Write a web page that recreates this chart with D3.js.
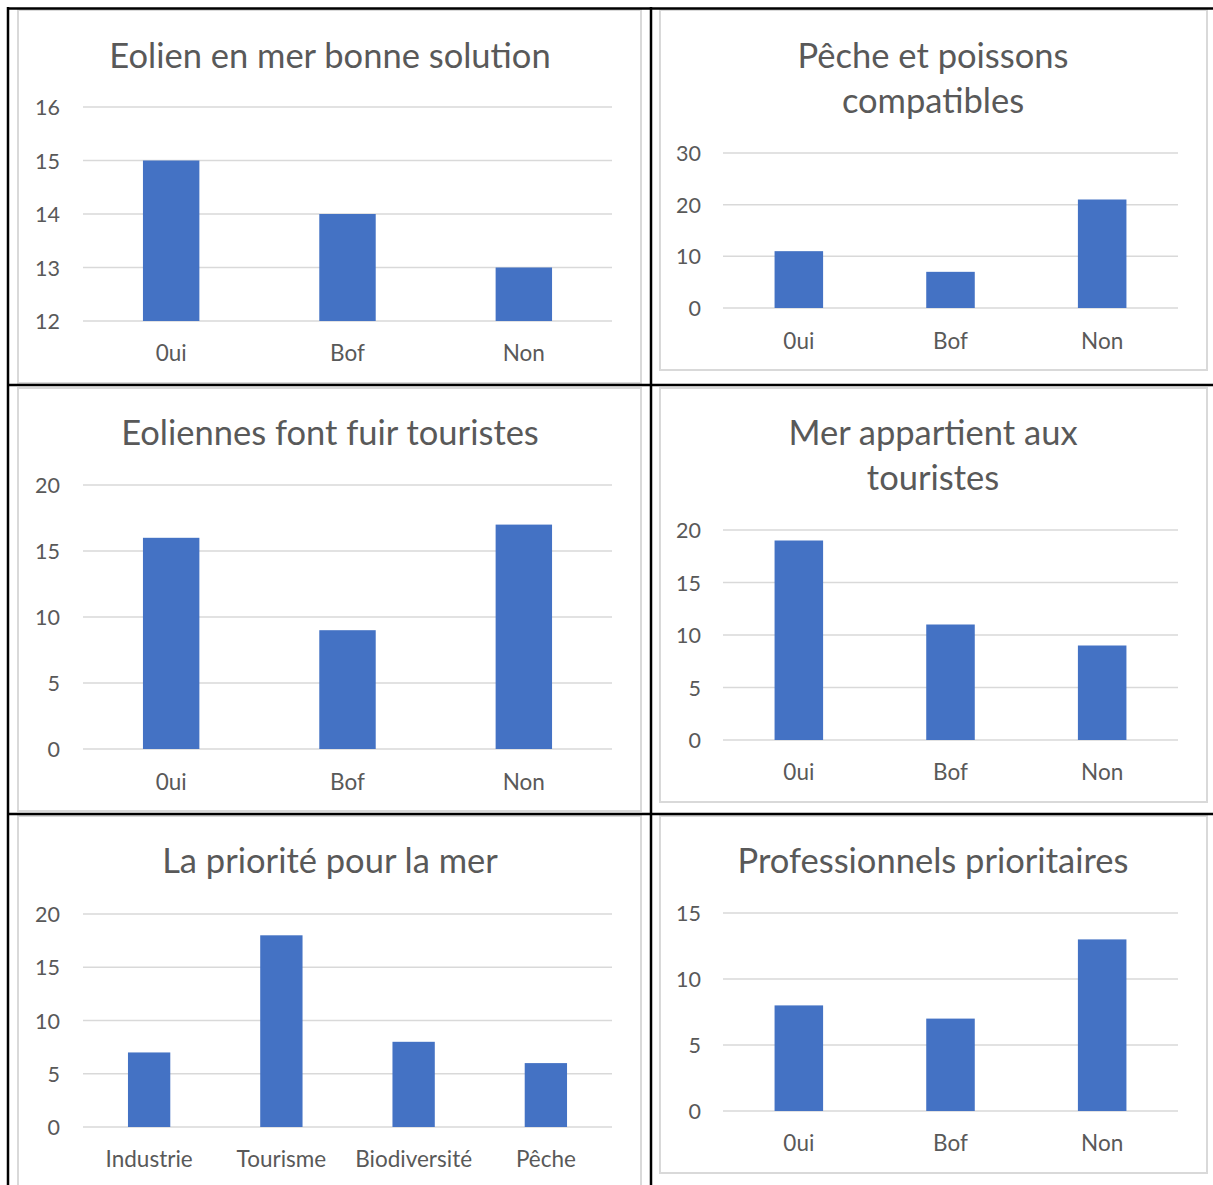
<!DOCTYPE html>
<html>
<head>
<meta charset="utf-8">
<script src="https://cdn.jsdelivr.net/npm/d3@7/dist/d3.min.js"></script>
<style>
  html, body { margin: 0; padding: 0; background: #fff; }
  svg { display: block; }
  text { font-family: Lato, "Open Sans", sans-serif; fill: #595959; }
</style>
</head>
<body>
<svg id="chart" width="1213" height="1185"></svg>
<script>
// ---- Data ----
const catsOuiBofNon = ["0ui", "Bof", "Non"];
const catsPriorite = ["Industrie", "Tourisme", "Biodiversité", "Pêche"];

const title1 = ["Eolien en mer bonne solution"];
const values1 = [15, 14, 13];
const ticks1 = [12, 13, 14, 15, 16];

const title2 = ["Pêche et poissons", "compatibles"];
const values2 = [11, 7, 21];
const ticks2 = [0, 10, 20, 30];

const title3 = ["Eoliennes font fuir touristes"];
const values3 = [16, 9, 17];
const ticks3 = [0, 5, 10, 15, 20];

const title4 = ["Mer appartient aux", "touristes"];
const values4 = [19, 11, 9];
const ticks4 = [0, 5, 10, 15, 20];

const title5 = ["La priorité pour la mer"];
const values5 = [7, 18, 8, 6];
const ticks5 = [0, 5, 10, 15, 20];

const title6 = ["Professionnels prioritaires"];
const values6 = [8, 7, 13];
const ticks6 = [0, 5, 10, 15];

// ---- Layout ----
const charts = [
  { title: title1, cats: catsOuiBofNon, values: values1, ticks: ticks1,
    box: [18, 10, 641, 383], titleY: [54], px: [83, 612], py: [321, 107], labY: 352, tickX: 60 },
  { title: title2, cats: catsOuiBofNon, values: values2, ticks: ticks2,
    box: [660, 10, 1207, 370], titleY: [54, 99], px: [723, 1178], py: [308, 153], labY: 340, tickX: 701 },
  { title: title3, cats: catsOuiBofNon, values: values3, ticks: ticks3,
    box: [18, 388, 641, 811], titleY: [431], px: [83, 612], py: [749, 485], labY: 781, tickX: 60 },
  { title: title4, cats: catsOuiBofNon, values: values4, ticks: ticks4,
    box: [660, 388, 1207, 802], titleY: [431, 476], px: [723, 1178], py: [740, 530], labY: 771, tickX: 701 },
  { title: title5, cats: catsPriorite, values: values5, ticks: ticks5,
    box: [18, 816, 641, 1200], titleY: [859], px: [83, 612], py: [1127, 914], labY: 1158, tickX: 60 },
  { title: title6, cats: catsOuiBofNon, values: values6, ticks: ticks6,
    box: [660, 816, 1207, 1173], titleY: [859], px: [723, 1178], py: [1111, 913], labY: 1142, tickX: 701 }
];

const svg = d3.select("#chart");

charts.forEach(c => {
  const g = svg.append("g");
  // chart frame
  g.append("rect")
    .attr("x", c.box[0]).attr("y", c.box[1])
    .attr("width", c.box[2] - c.box[0]).attr("height", c.box[3] - c.box[1])
    .attr("fill", "#fff").attr("stroke", "#d9d9d9").attr("stroke-width", 2);

  c.title.forEach((t, i) => {
    g.append("text")
      .attr("x", c.px[0] === 83 ? 330 : 933)
      .attr("y", c.titleY[i])
      .attr("text-anchor", "middle")
      .attr("dominant-baseline", "central")
      .attr("font-size", 34.5)
      .text(t);
  });

  const x = d3.scaleBand().domain(c.cats).range(c.px)
    .paddingInner(0.68).paddingOuter(0.34);
  const y = d3.scaleLinear()
    .domain([c.ticks[0], c.ticks[c.ticks.length - 1]])
    .range(c.py);

  // gridlines
  g.append("g")
    .selectAll("line").data(c.ticks).join("line")
    .attr("x1", c.px[0]).attr("x2", c.px[1])
    .attr("y1", d => y(d)).attr("y2", d => y(d))
    .attr("stroke", "#d9d9d9").attr("stroke-width", 1.5);

  // y tick labels
  g.append("g")
    .selectAll("text").data(c.ticks).join("text")
    .attr("x", c.tickX).attr("y", d => y(d))
    .attr("text-anchor", "end").attr("dominant-baseline", "central")
    .attr("font-size", 21.5)
    .text(d => d);

  // bars
  g.append("g")
    .selectAll("rect").data(c.values).join("rect")
    .attr("x", (d, i) => x(c.cats[i]))
    .attr("width", x.bandwidth())
    .attr("y", d => y(d))
    .attr("height", d => y(c.ticks[0]) - y(d))
    .attr("fill", "#4472c4");

  // category labels
  g.append("g")
    .selectAll("text").data(c.cats).join("text")
    .attr("x", d => x(d) + x.bandwidth() / 2)
    .attr("y", c.labY)
    .attr("text-anchor", "middle").attr("dominant-baseline", "central")
    .attr("font-size", 22.5)
    .text(d => d);
});

// table lines
const tableV = [8, 651];
const tableH = [8.5, 385, 814];
svg.append("g").selectAll("line").data(tableV).join("line")
  .attr("x1", d => d).attr("x2", d => d).attr("y1", 7).attr("y2", 1185)
  .attr("stroke", "#000").attr("stroke-width", 2.5);
svg.append("g").selectAll("line").data(tableH).join("line")
  .attr("x1", 7).attr("x2", 1213).attr("y1", d => d).attr("y2", d => d)
  .attr("stroke", "#000").attr("stroke-width", 2.5);
</script>
</body>
</html>
